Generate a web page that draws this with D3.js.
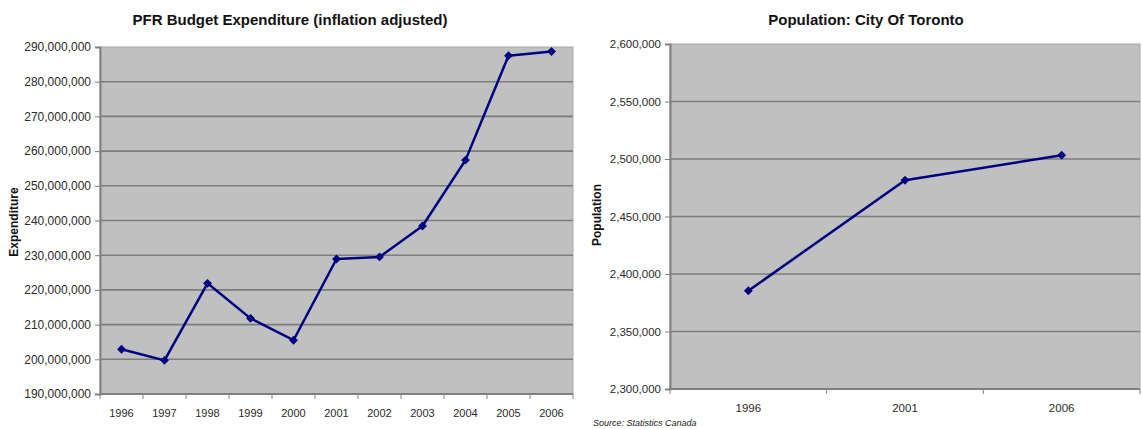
<!DOCTYPE html>
<html>
<head>
<meta charset="utf-8">
<script src="https://cdn.jsdelivr.net/npm/d3@7"></script>
<style>
  body { margin: 0; background: #ffffff; }
  svg { display: block; font-family: "Liberation Sans", Arial, sans-serif; }
</style>
</head>
<body>
<svg id="chart" width="1142" height="429"></svg>
<script>
// ---- Data ----
const expYears = ["1996","1997","1998","1999","2000","2001","2002","2003","2004","2005","2006"];
const expValues = [202900000, 199700000, 221900000, 211800000, 205500000, 228900000, 229500000, 238400000, 257400000, 287500000, 288700000];
const expTicks = [190000000, 200000000, 210000000, 220000000, 230000000, 240000000, 250000000, 260000000, 270000000, 280000000, 290000000];

const popYears = ["1996","2001","2006"];
const popValues = [2385421, 2481494, 2503281];
const popTicks = [2300000, 2350000, 2400000, 2450000, 2500000, 2550000, 2600000];

const titles = ["PFR Budget Expenditure (inflation adjusted)", "Population: City Of Toronto"];
const yTitles = ["Expenditure", "Population"];
const sourceNote = "Source: Statistics Canada";

const svg = d3.select("#chart");
const fmt = d3.format(",");
const diamond = d3.symbolDiamond2 || d3.symbolDiamond;

function drawPanel(cfg) {
  const { x0, x1, y0, y1, cats, vals, ticks, title, yTitle, titleX, yTitleX, yTitleY, xFont, yFont, xLabelY } = cfg;
  const g = svg.append("g");
  const x = d3.scaleBand().domain(cats).range([x0, x1]);
  const y = d3.scaleLinear().domain([ticks[0], ticks[ticks.length - 1]]).range([y1, y0]);

  // plot background
  g.append("rect").attr("x", x0).attr("y", y0).attr("width", x1 - x0).attr("height", y1 - y0)
    .attr("fill", "#c0c0c0").attr("stroke", "#a8a8a8").attr("stroke-width", 1);

  // gridlines
  g.append("g").selectAll("line").data(ticks.slice(1, -1)).join("line")
    .attr("x1", x0).attr("x2", x1)
    .attr("y1", d => y(d)).attr("y2", d => y(d))
    .attr("stroke", "#7c7c7c").attr("stroke-width", 1.6);

  // y axis
  const yAxis = g.append("g").attr("transform", `translate(${x0},0)`)
    .call(d3.axisLeft(y).tickValues(ticks).tickFormat(fmt).tickSize(5).tickPadding(4));
  yAxis.select(".domain").attr("stroke", "#808080").attr("stroke-width", 2);
  yAxis.selectAll(".tick line").attr("stroke", "#808080");
  yAxis.selectAll("text").attr("fill", "#2a2a2a").style("font-size", yFont + "px");

  // x axis: ticks at band boundaries
  const xAxisG = g.append("g").attr("transform", `translate(0,${y1})`);
  xAxisG.append("line").attr("x1", x0).attr("x2", x1).attr("y1", 0).attr("y2", 0)
    .attr("stroke", "#808080").attr("stroke-width", 2);
  const bounds = cats.map(c => x(c)).concat([x1]);
  xAxisG.selectAll("line.tk").data(bounds).join("line").attr("class", "tk")
    .attr("x1", d => d).attr("x2", d => d).attr("y1", 0).attr("y2", 5)
    .attr("stroke", "#808080");
  xAxisG.selectAll("text").data(cats).join("text")
    .attr("x", d => x(d) + x.bandwidth() / 2).attr("y", xLabelY - y1)
    .attr("text-anchor", "middle").attr("dy", "0.35em")
    .attr("fill", "#2a2a2a").style("font-size", xFont + "px").text(d => d);

  // line
  const line = d3.line().x((d, i) => x(cats[i]) + x.bandwidth() / 2).y(d => y(d));
  g.append("path").datum(vals).attr("d", line)
    .attr("fill", "none").attr("stroke", "#000080").attr("stroke-width", 2.5)
    .attr("stroke-linejoin", "round");
  g.append("g").selectAll("path").data(vals).join("path")
    .attr("d", d3.symbol(diamond, 50))
    .attr("transform", (d, i) => `translate(${x(cats[i]) + x.bandwidth() / 2},${y(d)})`)
    .attr("fill", "#000080");

  // title
  g.append("text").attr("x", titleX).attr("y", 25).attr("text-anchor", "middle")
    .style("font-size", "15px").style("font-weight", "bold").attr("fill", "#111").text(title);

  // y title
  g.append("text").attr("transform", `translate(${yTitleX},${yTitleY}) rotate(-90)`)
    .attr("text-anchor", "middle").attr("dy", "0.35em")
    .style("font-size", "12px").style("font-weight", "bold").attr("fill", "#111").text(yTitle);
}

drawPanel({ x0: 100, x1: 573, y0: 47, y1: 394, cats: expYears, vals: expValues, ticks: expTicks,
  title: titles[0], yTitle: yTitles[0], titleX: 290, yTitleX: 14, yTitleY: 222, xFont: 11, yFont: 12, xLabelY: 413 });
drawPanel({ x0: 670, x1: 1140, y0: 44, y1: 389, cats: popYears, vals: popValues, ticks: popTicks,
  title: titles[1], yTitle: yTitles[1], titleX: 866, yTitleX: 597, yTitleY: 215, xFont: 11.5, yFont: 11.5, xLabelY: 408 });

svg.append("text").attr("x", 593).attr("y", 426)
  .style("font-size", "9px").style("font-style", "italic").attr("fill", "#222").text(sourceNote);
</script>
</body>
</html>
